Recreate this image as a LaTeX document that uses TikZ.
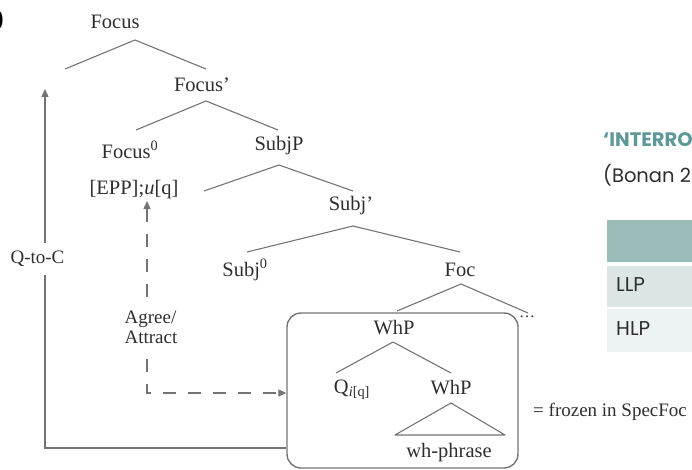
\documentclass[tikz,border=0pt]{standalone}
\usepackage{fontspec}
\setmainfont{Liberation Serif}
\newfontfamily\slidefont{Poppins}
\usetikzlibrary{arrows.meta}
\definecolor{branchgray}{HTML}{747474}
\definecolor{ink}{HTML}{2E2E2E}
\definecolor{headteal}{HTML}{5F9898}
\definecolor{cellhead}{HTML}{9BBDBA}
\definecolor{cellone}{HTML}{DCE5E5}
\definecolor{celltwo}{HTML}{EDF2F2}
\begin{document}
\begin{tikzpicture}[x=1pt,y=-1pt,
  lbl/.style={font=\fontsize{20.5}{23}\selectfont, text=ink, inner sep=0pt},
  br/.style={draw=branchgray, line width=1.1pt, line join=round},
  movearrow/.style={draw=branchgray, line width=1.3pt, -{Triangle[length=8pt,width=7pt]}},
  agreearrow/.style={draw=branchgray, line width=1.3pt, dash pattern=on 13pt off 12pt,
    {Triangle[length=8pt,width=7pt]}-{Triangle[length=8pt,width=7pt]}},
  sidetext/.style={font=\slidefont\fontsize{19}{22}\selectfont, anchor=west, inner sep=0pt},
  celltext/.style={sidetext, text=ink, font=\slidefont\fontsize{20}{23}\selectfont}
]
\useasboundingbox (0,0) rectangle (692,470);
\clip (0,0) rectangle (692,470);

% closing parenthesis of the example number, at the left edge
\node[anchor=east, inner sep=0pt, font=\bfseries\fontsize{26}{28}\selectfont] (paren) at (4,20) {)};

% ---------- the tree ----------
\node[lbl] (focus) at (115,22) {Focus};
\coordinate (fa) at (135,40); \coordinate (fl) at (65,69); \coordinate (fr) at (206,69);
\draw[br] (fl) -- (fa) -- (fr);

\node[lbl] (focusbar) at (202,85) {Focus’};
\coordinate (fba) at (206,101); \coordinate (fbl) at (136,130); \coordinate (fbr) at (278,130);
\draw[br] (fbl) -- (fba) -- (fbr);

\node[lbl] (focushead) at (130,150) {Focus\textsuperscript{0}};
\node[lbl] (epp) at (134,190) {[EPP];\textit{u}[q]};
\node[lbl] (subjp) at (279,146) {SubjP};
\coordinate (spa) at (279,165); \coordinate (spl) at (204,191); \coordinate (spr) at (353,191);
\draw[br] (spl) -- (spa) -- (spr);

\node[lbl] (subjbar) at (351,206) {Subj’};
\coordinate (sba) at (353,226); \coordinate (sbl) at (247,252); \coordinate (sbr) at (460,252);
\draw[br] (sbl) -- (sba) -- (sbr);

\node[lbl] (subjhead) at (245,270) {Subj\textsuperscript{0}};
\node[lbl] (foc) at (460,270) {Foc};
\coordinate (fca) at (461,284); \coordinate (fcl) at (397,311); \coordinate (fcr) at (528,313);
\draw[br] (fcl) -- (fca) -- (fcr);
\node[lbl, font=\fontsize{16}{18}\selectfont] (dots) at (527,317) {\dots};

% frozen constituent
\node[draw=branchgray, line width=1.4pt, rounded corners=14pt, minimum width=231pt,
      minimum height=155pt, inner sep=0pt] (frozen) at (402.5,390.5) {};

\node[lbl] (whp) at (394,328) {WhP};
\coordinate (wa) at (393,342); \coordinate (wl) at (336,373); \coordinate (wr) at (451,373);
\draw[br] (wl) -- (wa) -- (wr);

\node[lbl] (q) at (352,390) {Q\textsubscript{\textit{i}[q]}};
\node[lbl] (whpb) at (451,388) {WhP};
\coordinate (ta) at (451,403); \coordinate (tl) at (395,435); \coordinate (tr) at (505,435);
\draw[br] (ta) -- (tl) -- (tr) -- cycle;
\node[lbl] (whphrase) at (449,453) {wh-phrase};

\node[lbl, anchor=west, font=\fontsize{19}{21}\selectfont] (frozenlabel) at (533,412) {= frozen in SpecFoc};

% ---------- movement and agreement arrows ----------
\coordinate (qtop) at (45,89);
\coordinate (qcorner) at (45,448);
\draw[movearrow] (frozen.west |- qcorner) -- (qcorner) -- (qtop);
\node[lbl, fill=white, inner ysep=8pt, inner xsep=1pt, font=\fontsize{19}{21}\selectfont] (qtoc) at (37.5,259) {Q-to-C};

\coordinate (dtop) at (147,201);
\coordinate (dcorner) at (147,393);
\draw[agreearrow] (dtop) -- (dcorner) -- (frozen.west |- dcorner);
\node[lbl, fill=white, align=left, inner ysep=4pt, inner xsep=1pt,
      font=\fontsize{19}{20}\selectfont] (agree) at (151,327) {Agree/\\Attract};

% ---------- slide text and table on the right ----------
\node[sidetext, text=headteal, font=\slidefont\bfseries\fontsize{19.5}{22}\selectfont] (title) at (603,140) {‘INTERRO};
\node[sidetext, text=ink, font=\slidefont\fontsize{19.5}{22}\selectfont] (source) at (603,175) {(Bonan 2};

\fill[cellhead] (607,220) rectangle (700,262);
\fill[cellone] (607,266) rectangle (700,307);
\fill[celltwo] (607,309) rectangle (700,352);
\node[celltext] (llp) at (616,285) {LLP};
\node[celltext] (hlp) at (616,329) {HLP};
\end{tikzpicture}
\end{document}
